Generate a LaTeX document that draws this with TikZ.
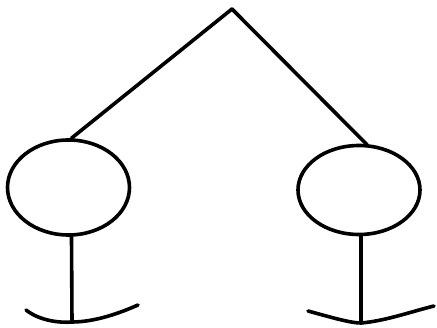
\documentclass[tikz,border=0pt]{standalone}
\usetikzlibrary{shapes.geometric,calc}
\begin{document}
\begin{tikzpicture}[x=1pt,y=-1pt,
  stroke/.style={line width=3.6pt,line cap=round,line join=round},
  headshape/.style={ellipse,draw,line width=3.6pt,inner sep=0pt}]
\useasboundingbox[fill=white] (0,0) rectangle (437,328);
\coordinate (apex) at (232,9);
\node[headshape,minimum width=122pt,minimum height=95pt] (lhead) at (68.5,187.5) {};
\node[headshape,minimum width=122pt,minimum height=89pt] (rhead) at (359,190) {};
\coordinate (lfoot) at (72,322);
\coordinate (rfoot) at (361,323);
\draw[stroke] (apex) -- ($(lhead.north)+(3,0)$);
\draw[stroke] (apex) -- ($(rhead.north)+(8,1)$);
\draw[stroke] ($(lhead.south)+(3,0)$) -- (lfoot);
\draw[stroke] ($(rhead.south)+(2,0)$) -- (rfoot);
\coordinate (la) at (26,310);
\coordinate (lb) at (138,305);
\coordinate (ra) at (308,311);
\coordinate (rb) at (434,306);
\draw[stroke] (la) .. controls (40,321) and (60,323) .. (lfoot) .. controls (95,322) and (120,313) .. (lb);
\draw[stroke] (ra) .. controls (330,317) and (350,323) .. (rfoot) .. controls (385,321) and (410,312) .. (rb);
\end{tikzpicture}
\end{document}
